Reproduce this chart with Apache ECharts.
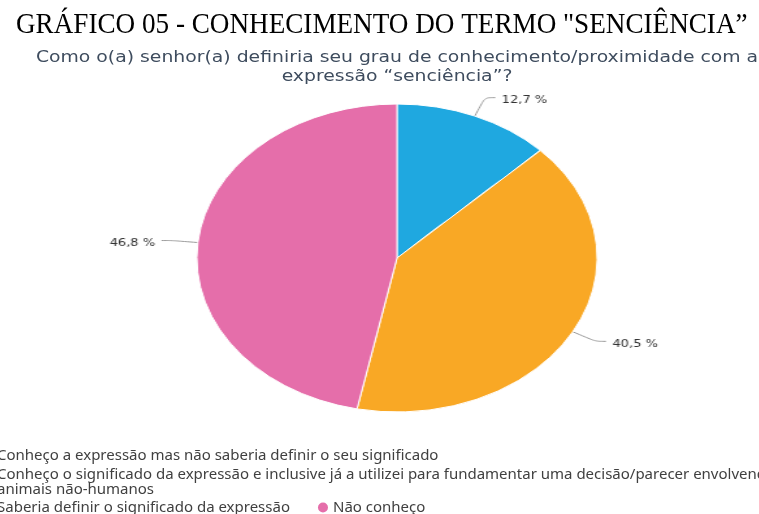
<!DOCTYPE html>
<html>
<head>
<meta charset="utf-8">
<script src="https://cdn.jsdelivr.net/npm/echarts@6/dist/echarts.min.js"></script>
<style>
  html, body { margin: 0; padding: 0; background: #fff; overflow: hidden; }
  #wrap { position: relative; width: 759px; height: 514px; overflow: hidden; }
  /* the pie in the picture is an ellipse, so the pie canvas is stretched sideways */
  #pie { position: absolute; left: 0; top: 0; width: 759px; height: 514px;
         transform: scaleX(1.3); transform-origin: 397px 0; }
  #main { position: absolute; left: 0; top: 0; width: 759px; height: 514px; }
</style>
</head>
<body>
<div id="wrap"><div id="pie"></div><div id="main"></div></div>
<script>
const categorias = [
    'Conheço a expressão mas não saberia definir o seu significado',
    'Conheço o significado da expressão e inclusive já a utilizei para fundamentar uma decisão/parecer envolvendo animais não-humanos',
    'Saberia definir o significado da expressão',
    'Não conheço'
];
const valores = [12.7, 0, 40.5, 46.8];
const cores = ['#1fa8e0', '#7cb342', '#f9a825', '#e56eaa'];

const titulo = 'GRÁFICO 05 - CONHECIMENTO DO TERMO "SENCIÊNCIA”';
const pergunta = 'Como o(a) senhor(a) definiria seu grau de conhecimento/proximidade com a\nexpressão “senciência”?';

const dados = categorias.map((nome, i) => ({
    name: nome,
    value: valores[i],
    itemStyle: { color: cores[i] }
}));

// pizza (canvas esticado)
const pieChart = echarts.init(document.getElementById('pie'));
pieChart.setOption({
    animation: false,
    series: [{
        type: 'pie',
        center: [397, 258],
        radius: 154,
        startAngle: 90,
        clockwise: true,
        minShowLabelAngle: 1,
        data: dados,
        itemStyle: { borderColor: '#fff', borderWidth: 1 },
        label: {
            show: true,
            position: 'outside',
            formatter: p => '{v|' + p.value.toFixed(1).replace('.', ',') + ' %}',
            rich: {
                v: { color: '#333', fontFamily: 'DejaVu Sans', fontSize: 10, padding: [6, 0, 0, 0] }
            }
        },
        labelLine: {
            show: true,
            length: 20,
            length2: 8,
            smooth: 0.3,
            lineStyle: { color: '#999', width: 1 }
        }
    }]
});

// títulos e legenda
const legendaBase = {
    orient: 'horizontal',
    left: -18,
    padding: 0,
    itemWidth: 10,
    itemHeight: 10,
    icon: 'circle',
    textStyle: { fontFamily: 'Noto Sans', fontSize: 15, color: '#404040', lineHeight: 17 }
};

const mainChart = echarts.init(document.getElementById('main'));
mainChart.setOption({
    animation: false,
    graphic: [{
        type: 'text',
        x: 16,
        y: 25,
        scaleX: 0.905,
        style: {
            text: titulo,
            font: '30px "Liberation Serif"',
            fill: '#000',
            textAlign: 'left',
            textVerticalAlign: 'middle'
        }
    }, {
        type: 'text',
        x: 397,
        y: 48.5,
        scaleX: 1.14,
        style: {
            text: pergunta,
            font: '16.5px "DejaVu Sans"',
            lineHeight: 19,
            fill: '#3e4c5e',
            textAlign: 'center',
            textVerticalAlign: 'top'
        }
    }],
    legend: [
        Object.assign({}, legendaBase, { top: 447.5, data: [categorias[0]] }),
        Object.assign({}, legendaBase, {
            top: 467,
            data: [categorias[1]],
            formatter: nome => nome.replace(' animais', '\nanimais'),
            textStyle: Object.assign({}, legendaBase.textStyle, { lineHeight: 15 })
        }),
        Object.assign({}, legendaBase, { top: 499, itemGap: 28, data: [categorias[2], categorias[3]] })
    ],
    series: [{
        type: 'pie',
        radius: 0,
        silent: true,
        label: { show: false },
        labelLine: { show: false },
        data: dados
    }]
});
</script>
</body>
</html>
